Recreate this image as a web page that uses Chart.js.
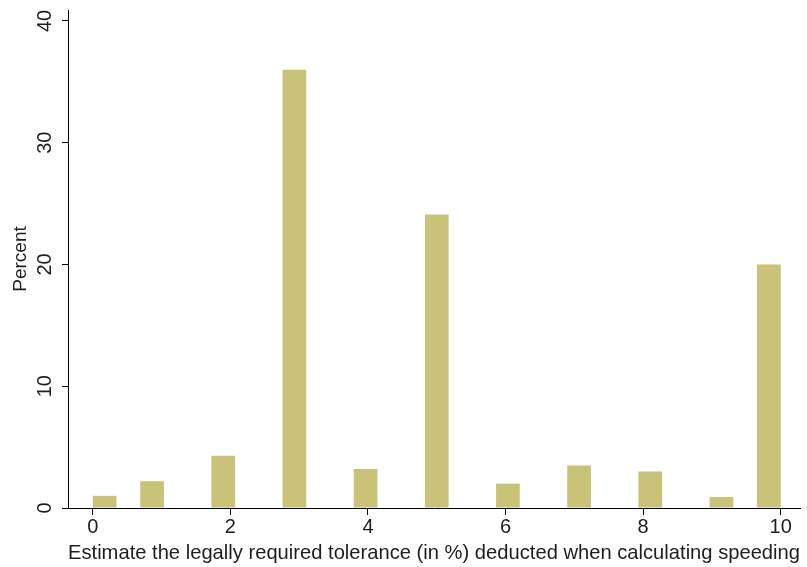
<!DOCTYPE html>
<html>
<head>
<meta charset="utf-8">
<script src="https://cdn.jsdelivr.net/npm/chart.js"></script>
<style>
  html, body { margin: 0; padding: 0; background: #fff; }
  #wrap { width: 807px; height: 567px; }
</style>
</head>
<body>
<div id="wrap"><canvas id="tolChart" width="807" height="567"></canvas></div>
<script>
// answers (tolerance in %) and share of respondents
const tolerance = [0, 1, 2, 3, 4, 5, 6, 7, 8, 9, 10];
const percent = [1.0, 2.2, 4.3, 36.0, 3.2, 24.1, 2.0, 3.5, 3.0, 0.9, 20.0];
const xTicks = [0, 2, 4, 6, 8, 10];
const yTicks = [0, 10, 20, 30, 40];

// Stata-style binning: 29 bins over 0..10
const nBins = 29;
const binWidth = 10 / nBins;
const binCenter = v => (Math.min(Math.floor(v / binWidth), nBins - 1) + 0.5) * binWidth;

const FONT = "'Liberation Sans', Arial, sans-serif";
const TEXT = '#1e1e1e';

// y tick labels are drawn rotated, like the original
const rotatedYLabels = {
  id: 'rotatedYLabels',
  afterDraw(chart) {
    const y = chart.scales.y;
    const ctx = chart.ctx;
    ctx.save();
    ctx.font = '20px ' + FONT;
    ctx.fillStyle = TEXT;
    ctx.textAlign = 'center';
    ctx.textBaseline = 'middle';
    yTicks.forEach(v => {
      ctx.save();
      ctx.translate(45, y.getPixelForValue(v));
      ctx.rotate(-Math.PI / 2);
      ctx.fillText(String(v), 0, 0);
      ctx.restore();
    });
    // x axis line runs a little past the y axis
    ctx.strokeStyle = '#000';
    ctx.lineWidth = 1;
    ctx.beginPath();
    ctx.moveTo(62, Math.round(y.bottom) + 0.5);
    ctx.lineTo(y.right, Math.round(y.bottom) + 0.5);
    ctx.stroke();
    ctx.restore();
  }
};

new Chart(document.getElementById('tolChart'), {
  type: 'bar',
  data: {
    datasets: [{
      label: 'Percent',
      data: tolerance.map((t, i) => ({ x: binCenter(t), y: percent[i] })),
      backgroundColor: '#c8c379',
      borderWidth: 0,
      categoryPercentage: 1,
      barPercentage: 0.5
    }]
  },
  options: {
    responsive: false,
    animation: false,
    layout: { padding: { top: 10, right: 7, left: 0, bottom: 1 } },
    plugins: { legend: { display: false }, tooltip: { enabled: false } },
    scales: {
      x: {
        type: 'linear',
        offset: false,
        min: -0.36,
        max: 10.28,
        afterBuildTicks: s => { s.ticks = xTicks.map(v => ({ value: v })); },
        afterFit: s => { s.height = 58; },
        grid: { offset: false, drawOnChartArea: false, tickLength: 7, color: '#000', lineWidth: 1 },
        border: { display: true, color: '#000', width: 1 },
        ticks: { font: { size: 20, family: FONT }, color: TEXT, padding: 0, maxRotation: 0 },
        title: {
          display: true,
          text: 'Estimate the legally required tolerance (in %) deducted when calculating speeding',
          font: { size: 21, family: FONT },
          color: TEXT,
          padding: { top: 0, bottom: 0 }
        }
      },
      y: {
        min: 0,
        max: 40.9,
        afterBuildTicks: s => { s.ticks = yTicks.map(v => ({ value: v })); },
        afterFit: s => { s.width = 68; },
        grid: { drawOnChartArea: false, tickLength: 6, color: '#000', lineWidth: 1 },
        border: { display: true, color: '#000', width: 1 },
        ticks: { display: false },
        title: {
          display: true,
          text: 'Percent',
          font: { size: 19, family: FONT },
          color: TEXT,
          padding: { top: 9, bottom: 0 }
        }
      }
    }
  },
  plugins: [rotatedYLabels]
});
</script>
</body>
</html>
